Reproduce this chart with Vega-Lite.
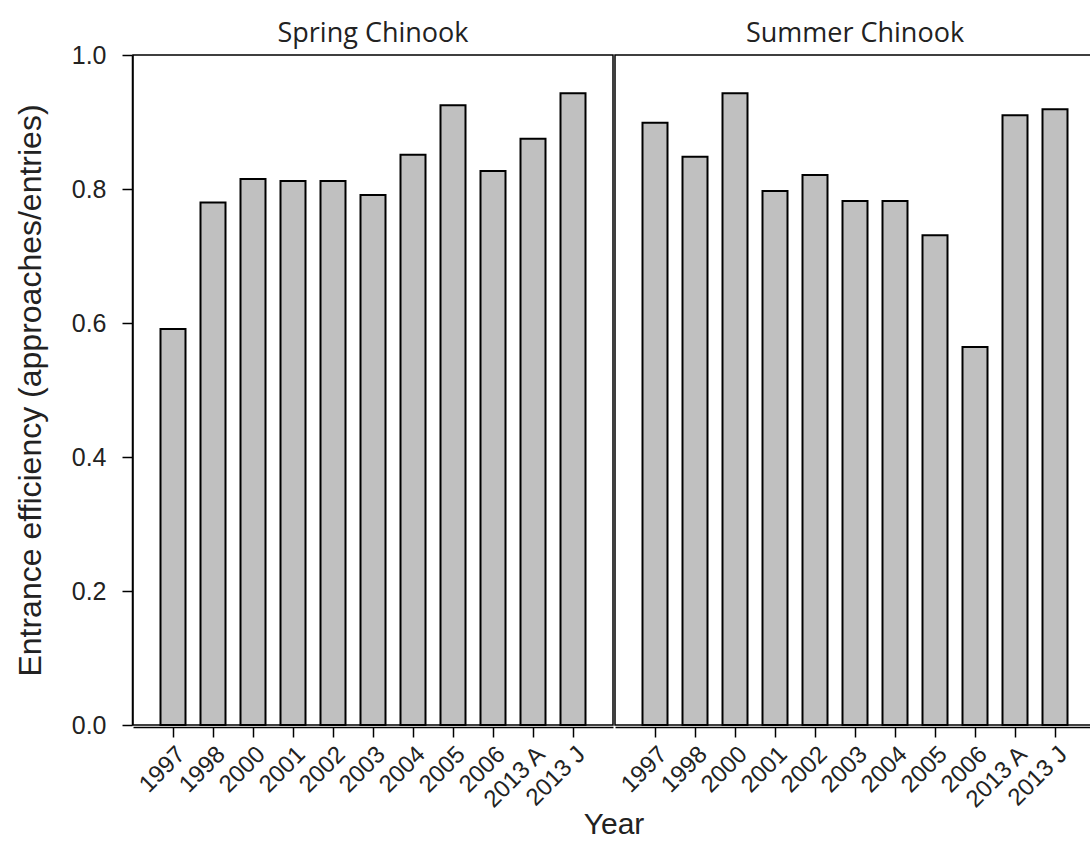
{
  "$schema": "https://vega.github.io/schema/vega-lite/v6.json",
  "background": "white",
  "padding": {"left": 14, "top": 20, "right": 0, "bottom": 0},
  "data": {"values": [
    {"run": "Spring Chinook", "year": "1997", "value": 0.591},
    {"run": "Spring Chinook", "year": "1998", "value": 0.780},
    {"run": "Spring Chinook", "year": "2000", "value": 0.815},
    {"run": "Spring Chinook", "year": "2001", "value": 0.812},
    {"run": "Spring Chinook", "year": "2002", "value": 0.812},
    {"run": "Spring Chinook", "year": "2003", "value": 0.791},
    {"run": "Spring Chinook", "year": "2004", "value": 0.851},
    {"run": "Spring Chinook", "year": "2005", "value": 0.925},
    {"run": "Spring Chinook", "year": "2006", "value": 0.827},
    {"run": "Spring Chinook", "year": "2013 A", "value": 0.875},
    {"run": "Spring Chinook", "year": "2013 J", "value": 0.943},
    {"run": "Summer Chinook", "year": "1997", "value": 0.899},
    {"run": "Summer Chinook", "year": "1998", "value": 0.848},
    {"run": "Summer Chinook", "year": "2000", "value": 0.943},
    {"run": "Summer Chinook", "year": "2001", "value": 0.797},
    {"run": "Summer Chinook", "year": "2002", "value": 0.821},
    {"run": "Summer Chinook", "year": "2003", "value": 0.782},
    {"run": "Summer Chinook", "year": "2004", "value": 0.782},
    {"run": "Summer Chinook", "year": "2005", "value": 0.731},
    {"run": "Summer Chinook", "year": "2006", "value": 0.564},
    {"run": "Summer Chinook", "year": "2013 A", "value": 0.910},
    {"run": "Summer Chinook", "year": "2013 J", "value": 0.919}
  ]},
  "facet": {
    "column": {
      "field": "run",
      "type": "nominal",
      "title": "Year",
      "header": {
        "labelFont": "Open Sans",
        "labelFontSize": 27,
        "labelColor": "#222222",
        "labelOrient": "top",
        "labelPadding": 6,
        "titleOrient": "bottom",
        "titleFont": "Liberation Sans",
        "titleFontSize": 30,
        "titleFontWeight": "normal",
        "titleColor": "#222222",
        "titlePadding": -13
      }
    }
  },
  "spacing": 0,
  "spec": {
    "width": 480,
    "height": 670,
    "mark": {"type": "bar", "fill": "#c0c0c0", "stroke": "#000000", "strokeWidth": 2},
    "encoding": {
      "x": {
        "field": "year",
        "type": "nominal",
        "sort": null,
        "title": null,
        "scale": {"paddingInner": 0.375, "paddingOuter": 0.6875},
        "axis": {
          "labelAngle": -45,
          "labelFont": "Liberation Sans",
          "labelFontSize": 24,
          "labelColor": "#222222",
          "labelPadding": 5,
          "tickSize": 10,
          "tickColor": "#000000",
          "tickWidth": 1.5,
          "domainColor": "#000000",
          "domainWidth": 1.5
        }
      },
      "y": {
        "field": "value",
        "type": "quantitative",
        "title": "Entrance efficiency (approaches/entries)",
        "scale": {"domain": [0, 1], "nice": false},
        "axis": {
          "values": [0, 0.2, 0.4, 0.6, 0.8, 1.0],
          "format": ".1f",
          "grid": false,
          "labelFont": "Liberation Sans",
          "labelFontSize": 25,
          "labelColor": "#222222",
          "labelPadding": 16,
          "tickSize": 10,
          "tickColor": "#000000",
          "tickWidth": 1.5,
          "domainColor": "#000000",
          "domainWidth": 1.5,
          "titleFont": "Liberation Sans",
          "titleFontSize": 32,
          "titleFontWeight": "normal",
          "titleColor": "#222222",
          "titlePadding": 24
        }
      }
    }
  },
  "config": {
    "view": {"stroke": "#000000", "strokeWidth": 1.5}
  }
}
